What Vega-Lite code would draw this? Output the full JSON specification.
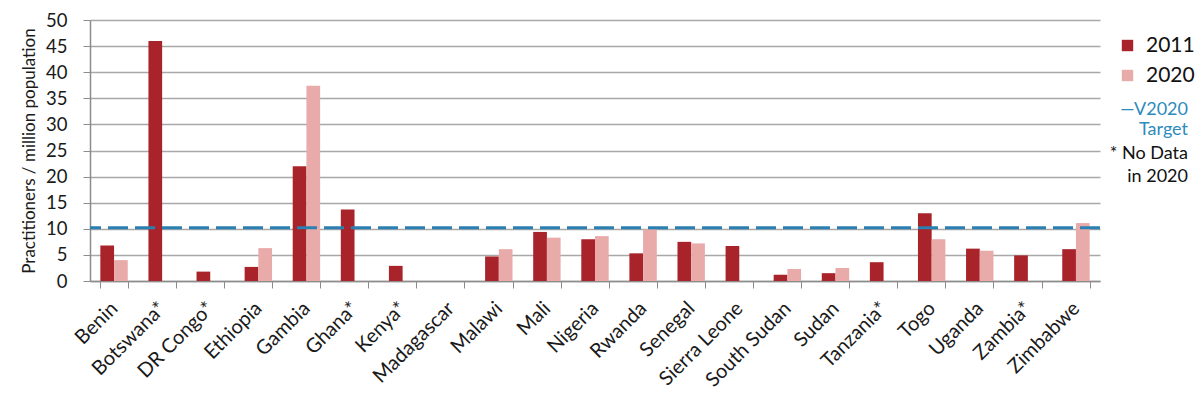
{
  "$schema": "https://vega.github.io/schema/vega-lite/v6.json",
  "width": 1010,
  "height": 261,
  "autosize": "none",
  "padding": {"left": 90, "top": 20, "right": 100, "bottom": 124},
  "background": "white",
  "config": {
    "font": "Lato",
    "view": {"stroke": null},
    "axis": {"domainColor": "#8c8c8c", "tickColor": "#8c8c8c", "gridColor": "#a8a8a8", "labelColor": "#1a1a1a", "titleColor": "#1a1a1a"}
  },
  "datasets": {
    "bars": [
      {"country": "Benin", "year": "2011", "value": 6.8},
      {"country": "Benin", "year": "2020", "value": 4.0},
      {"country": "Botswana*", "year": "2011", "value": 46.0},
      {"country": "DR Congo*", "year": "2011", "value": 1.8},
      {"country": "Ethiopia", "year": "2011", "value": 2.7},
      {"country": "Ethiopia", "year": "2020", "value": 6.3},
      {"country": "Gambia", "year": "2011", "value": 22.0},
      {"country": "Gambia", "year": "2020", "value": 37.4},
      {"country": "Ghana*", "year": "2011", "value": 13.7},
      {"country": "Kenya*", "year": "2011", "value": 2.9},
      {"country": "Malawi", "year": "2011", "value": 4.7},
      {"country": "Malawi", "year": "2020", "value": 6.1},
      {"country": "Mali", "year": "2011", "value": 9.4},
      {"country": "Mali", "year": "2020", "value": 8.3},
      {"country": "Nigeria", "year": "2011", "value": 8.0},
      {"country": "Nigeria", "year": "2020", "value": 8.6},
      {"country": "Rwanda", "year": "2011", "value": 5.3},
      {"country": "Rwanda", "year": "2020", "value": 9.9},
      {"country": "Senegal", "year": "2011", "value": 7.5},
      {"country": "Senegal", "year": "2020", "value": 7.2},
      {"country": "Sierra Leone", "year": "2011", "value": 6.7},
      {"country": "South Sudan", "year": "2011", "value": 1.2},
      {"country": "South Sudan", "year": "2020", "value": 2.3},
      {"country": "Sudan", "year": "2011", "value": 1.5},
      {"country": "Sudan", "year": "2020", "value": 2.5},
      {"country": "Tanzania*", "year": "2011", "value": 3.6},
      {"country": "Togo", "year": "2011", "value": 13.0},
      {"country": "Togo", "year": "2020", "value": 8.0},
      {"country": "Uganda", "year": "2011", "value": 6.2},
      {"country": "Uganda", "year": "2020", "value": 5.8},
      {"country": "Zambia*", "year": "2011", "value": 4.9},
      {"country": "Zimbabwe", "year": "2011", "value": 6.1},
      {"country": "Zimbabwe", "year": "2020", "value": 11.1}
    ],
    "target": [{"label": "V2020 Target", "value": 10.2}]
  },
  "encoding": {
    "y": {
      "field": "value", "type": "quantitative",
      "scale": {"domain": [0, 50], "nice": false},
      "axis": {"title": "Practitioners / million population", "titleFontSize": 17, "titleFontWeight": "normal", "titlePadding": 7, "labelFontSize": 18.5, "labelPadding": 16, "values": [0, 5, 10, 15, 20, 25, 30, 35, 40, 45, 50], "tickSize": 7, "gridWidth": 1.5, "domainWidth": 1.5}
    }
  },
  "layer": [
    {
      "data": {"name": "bars"},
      "mark": {"type": "bar"},
      "encoding": {
        "x": {
          "field": "country", "type": "nominal", "sort": null,
          "scale": {
            "domain": ["Benin", "Botswana*", "DR Congo*", "Ethiopia", "Gambia", "Ghana*", "Kenya*", "Madagascar", "Malawi", "Mali", "Nigeria", "Rwanda", "Senegal", "Sierra Leone", "South Sudan", "Sudan", "Tanzania*", "Togo", "Uganda", "Zambia*", "Zimbabwe"],
            "paddingInner": 0.43, "paddingOuter": 0.215
          },
          "axis": {"title": null, "labelAngle": -45, "labelAlign": "right", "labelBaseline": "middle", "labelFontSize": 20, "labelPadding": 17, "tickBand": "extent", "tickSize": 7, "domainWidth": 1.5}
        },
        "xOffset": {"field": "year", "type": "nominal", "scale": {"domain": ["2011", "2020"], "padding": 0}},
        "color": {
          "field": "year", "type": "nominal",
          "scale": {"domain": ["2011", "2020"], "range": ["#a9242a", "#e9aaaa"]},
          "legend": {"title": null, "orient": "none", "legendX": 1027, "legendY": 15, "symbolType": "square", "symbolSize": 130, "labelFontSize": 21, "labelColor": "#111", "rowPadding": 8, "labelOffset": 8}
        }
      }
    },
    {
      "data": {"name": "target"},
      "mark": {"type": "rule", "strokeWidth": 3, "strokeDash": [20, 7]},
      "encoding": {
        "stroke": {
          "field": "label", "type": "nominal",
          "scale": {"range": ["#2a7fb3"]},
          "legend": {"title": ["* No Data", "in 2020"], "titleOrient": "bottom", "titleAnchor": "end", "titleAlign": "right", "titleFontSize": 18, "titleFontWeight": "normal", "titleColor": "#111", "titleLineHeight": 23, "titlePadding": 6, "orient": "none", "legendX": 1010, "legendY": 81, "symbolSize": 0, "symbolOpacity": 0, "labelAlign": "right", "labelOffset": 70, "labelFontSize": 18, "labelColor": "#2e8bbd", "labelExpr": "['—V2020', 'Target']", "labelLimit": 200}
        }
      }
    }
  ]
}
